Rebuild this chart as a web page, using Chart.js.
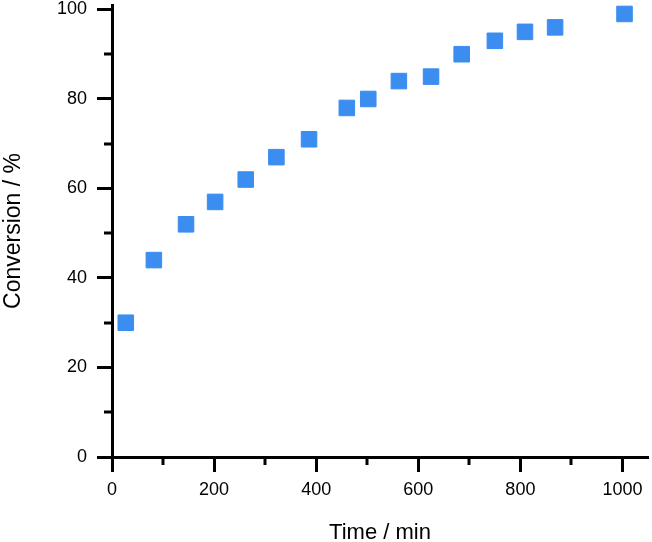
<!DOCTYPE html>
<html>
<head>
<meta charset="utf-8">
<script src="https://cdn.jsdelivr.net/npm/chart.js@4/dist/chart.umd.min.js"></script>
<style>
html,body{margin:0;padding:0;background:#fff;}
#wrap{width:652px;height:542px;position:relative;}
</style>
</head>
<body>
<div id="wrap"><canvas id="c" width="652" height="542"></canvas></div>
<script>
const timeMin = [27, 82, 145, 202, 262, 322, 386, 460, 502, 562, 625, 685, 750, 809, 868, 1004];
const conversion = [30, 44, 52, 57, 62, 67, 71, 78, 80, 84, 85, 90, 93, 95, 96, 99];
const xTicks = [0, 200, 400, 600, 800, 1000];
const xMinor = [100, 300, 500, 700, 900];
const yTicks = [0, 20, 40, 60, 80, 100];
const yMinor = [10, 30, 50, 70, 90];

const minorTicks = {
  id: 'minorTicks',
  afterDraw(chart) {
    const ctx = chart.ctx;
    const xs = chart.scales.x, ys = chart.scales.y;
    ctx.save();
    ctx.strokeStyle = '#000';
    ctx.lineWidth = 3;
    ctx.beginPath();
    xMinor.forEach(v => {
      const px = Math.round(xs.getPixelForValue(v));
      ctx.moveTo(px, xs.top);
      ctx.lineTo(px, xs.top + 8);
    });
    yMinor.forEach(v => {
      const py = Math.round(ys.getPixelForValue(v));
      ctx.moveTo(ys.right, py);
      ctx.lineTo(ys.right - 8, py);
    });
    ctx.stroke();
    ctx.restore();
  }
};

const font = 'Liberation Sans, Arial, sans-serif';
const noPad = s => { s.paddingTop = 0; s.paddingBottom = 0; s.paddingLeft = 0; s.paddingRight = 0; };

new Chart(document.getElementById('c'), {
  type: 'scatter',
  data: {
    datasets: [{
      data: timeMin.map((t, i) => ({x: t, y: conversion[i]})),
      pointStyle: 'rect',
      pointRadius: 11,
      pointHoverRadius: 11,
      backgroundColor: 'rgb(59,141,240)',
      borderColor: 'rgb(59,141,240)',
      borderWidth: 1,
      clip: false
    }]
  },
  options: {
    responsive: false,
    animation: false,
    devicePixelRatio: 1,
    layout: {autoPadding: false, padding: {top: 5, right: 4, left: 0, bottom: 0}},
    plugins: {legend: {display: false}, tooltip: {enabled: false}},
    scales: {
      x: {
        type: 'linear',
        min: 0,
        max: 1050,
        afterBuildTicks: s => { s.ticks = xTicks.map(v => ({value: v})); },
        afterFit: s => { s.height = 85; noPad(s); },
        border: {display: true, color: '#000', width: 3},
        grid: {drawOnChartArea: false, drawTicks: true, tickLength: 15, tickWidth: 3, tickColor: '#000'},
        ticks: {color: '#000', font: {family: font, size: 18}, padding: 7, maxRotation: 0, callback: v => String(v)},
        title: {display: true, text: 'Time / min', color: '#000', font: {family: font, size: 22}, padding: {top: 16, bottom: -4}}
      },
      y: {
        type: 'linear',
        min: 0,
        max: 101,
        afterBuildTicks: s => { s.ticks = yTicks.map(v => ({value: v})); },
        afterFit: s => { s.width = 112; noPad(s); },
        border: {display: true, color: '#000', width: 3},
        grid: {drawOnChartArea: false, drawTicks: true, tickLength: 15, tickWidth: 3, tickColor: '#000'},
        ticks: {color: '#000', font: {family: font, size: 18}, padding: 10, callback: v => String(v)},
        title: {display: true, text: 'Conversion / %', color: '#000', font: {family: font, size: 23}, padding: {top: 0, bottom: 0}}
      }
    }
  },
  plugins: [minorTicks]
});
</script>
</body>
</html>
